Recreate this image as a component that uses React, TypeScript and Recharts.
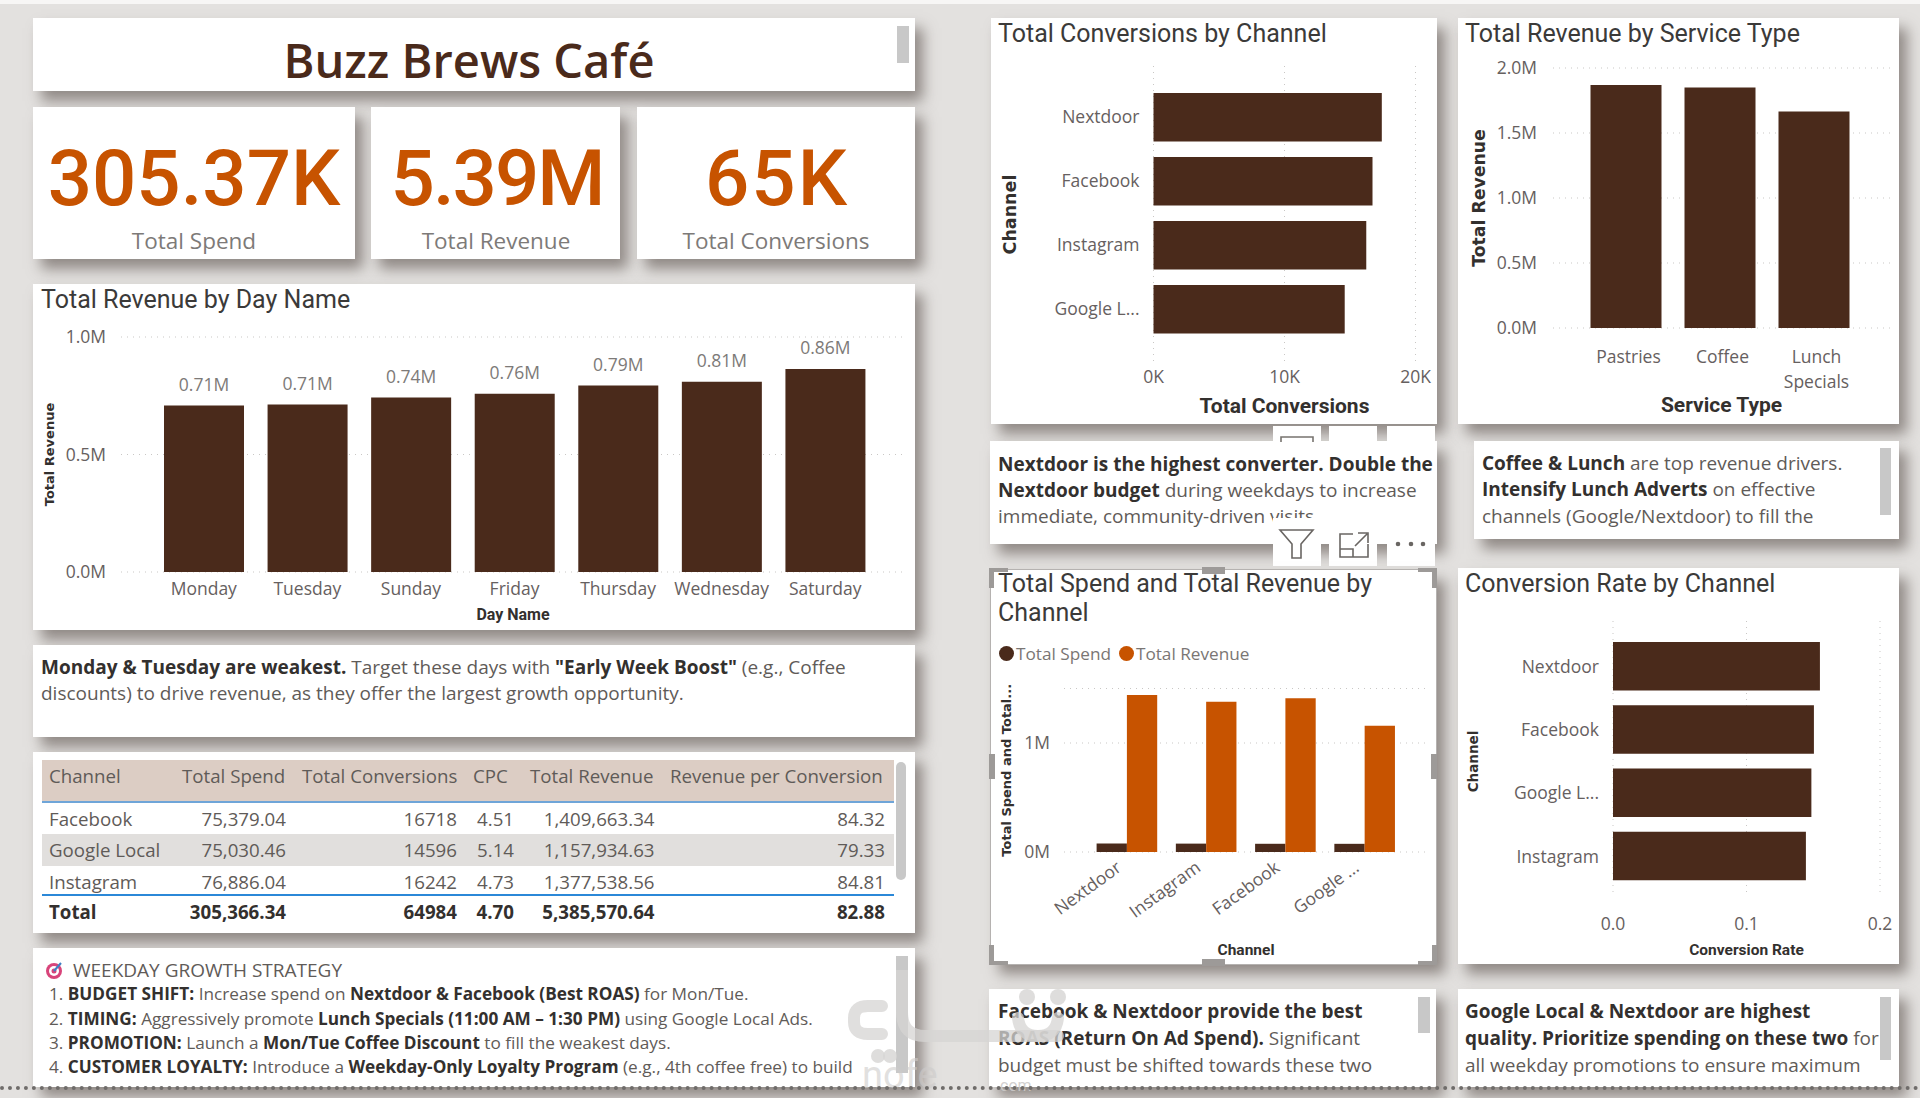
import React from "react";
import { BarChart, Bar, XAxis, YAxis, CartesianGrid, LabelList, Legend } from "recharts";

const BROWN = "#4a2a1b";
const ORANGE = "#c75300";
const TICK = "#666060";
const GRID = "#c9c7c5";
const UI = "'Open Sans', sans-serif";
const HEAD = "Roboto, sans-serif";
const WIDE = "'DejaVu Sans', sans-serif";

const dayNames = ["Monday", "Tuesday", "Sunday", "Friday", "Thursday", "Wednesday", "Saturday"];
const dayRevenue = [708000, 713000, 743000, 758000, 794000, 810000, 864000];

const conversionChannels = ["Nextdoor", "Facebook", "Instagram", "Google L..."];
const conversionValues = [17428, 16718, 16242, 14596];

const serviceTypes = ["Pastries", "Coffee", "Lunch Specials"];
const serviceRevenue = [1870000, 1850000, 1666000];

const spendChannels = ["Nextdoor", "Instagram", "Facebook", "Google ..."];
const spendValues = [78071, 76886, 75379, 75030];
const spendRevenue = [1440434, 1377539, 1409663, 1157935];

const rateChannels = ["Nextdoor", "Facebook", "Google L...", "Instagram"];
const rateValues = [0.155, 0.1505, 0.1486, 0.1445];

const tableHeaders = ["Channel", "Total Spend", "Total Conversions", "CPC", "Total Revenue", "Revenue per Conversion"];
const tableRows = [
  ["Facebook", "75,379.04", "16718", "4.51", "1,409,663.34", "84.32"],
  ["Google Local", "75,030.46", "14596", "5.14", "1,157,934.63", "79.33"],
  ["Instagram", "76,886.04", "16242", "4.73", "1,377,538.56", "84.81"],
];
const tableTotal = ["Total", "305,366.34", "64984", "4.70", "5,385,570.64", "82.88"];

const dayData = dayNames.map((name, i) => ({ name, revenue: dayRevenue[i] }));
const conversionData = conversionChannels.map((name, i) => ({ name, value: conversionValues[i] }));
const serviceData = serviceTypes.map((name, i) => ({ name, revenue: serviceRevenue[i] }));
const spendData = spendChannels.map((name, i) => ({ name, spend: spendValues[i], revenue: spendRevenue[i] }));
const rateData = rateChannels.map((name, i) => ({ name, rate: rateValues[i] }));

const Card = ({ x, y, w, h, children }: any) => (
  <div style={{ position: "absolute", left: x, top: y, width: w, height: h, background: "#fff", boxShadow: "8px 10px 13px rgba(90,80,75,0.6)" }}>
    {children}
  </div>
);

const T = ({ x, y, size = 19, color = "#5f5b58", weight = 400, font = UI, anchor = "left", spacing = 0, children }: any) => {
  const tx = anchor === "right" ? "-100%" : anchor === "center" ? "-50%" : "0";
  return (
    <div style={{ position: "absolute", left: x, top: y, transform: `translate(${tx},-50%)`, fontFamily: font, fontSize: size, color, fontWeight: weight, letterSpacing: spacing, whiteSpace: "nowrap", lineHeight: 1.2 }}>
      {children}
    </div>
  );
};

const B = ({ children }: any) => <b style={{ color: "#33302e", fontWeight: 700 }}>{children}</b>;

const Bar_ = ({ x, y, w, h, r = 0, c = "#c8c8c8" }: any) => (
  <div style={{ position: "absolute", left: x, top: y, width: w, height: h, background: c, borderRadius: r }} />
);

const axisTitle = (value: string, size: number, font = HEAD, weight = 700) => ({ value, fontSize: size, fontFamily: font, fontWeight: weight, fill: "#33302e" });

const ServiceTick = ({ x, y, payload }: any) => (
  <text x={x + 3} y={y} textAnchor="middle" fontSize={17.5} fontFamily={UI} fill={TICK}>
    {String(payload.value).split(" ").map((word, i) => (
      <tspan key={word} x={x + 3} dy={i === 0 ? 33 : 25}>{word}</tspan>
    ))}
  </text>
);

const SpendLegend = ({ payload }: any) => (
  <div style={{ display: "flex", fontFamily: UI, fontSize: 17.2, color: "#7a7674" }}>
    {(payload || []).map((item: any) => (
      <div key={item.value} style={{ display: "flex", alignItems: "center", marginRight: 8 }}>
        <span style={{ width: 15, height: 15, borderRadius: 8, background: item.color, marginRight: 2 }} />
        {item.value}
      </div>
    ))}
  </div>
);

const Handles = () => {
  const c = "#9d9a98";
  return (
    <>
      <div style={{ position: "absolute", left: 990, top: 569, width: 445, height: 394, border: `1px solid #b5b2b0` }} />
      <Bar_ x={989} y={568} w={19} h={4} c={c} /><Bar_ x={989} y={568} w={5} h={20} c={c} />
      <Bar_ x={1418} y={568} w={19} h={4} c={c} /><Bar_ x={1432} y={568} w={5} h={20} c={c} />
      <Bar_ x={989} y={961} w={19} h={4} c={c} /><Bar_ x={989} y={945} w={5} h={20} c={c} />
      <Bar_ x={1418} y={961} w={19} h={4} c={c} /><Bar_ x={1432} y={945} w={5} h={20} c={c} />
      <Bar_ x={1202} y={567} w={23} h={7} c={c} /><Bar_ x={1202} y={959} w={23} h={7} c={c} />
      <Bar_ x={989} y={754} w={6} h={25} c={c} /><Bar_ x={1431} y={754} w={6} h={25} c={c} />
    </>
  );
};

const Toolbar = () => (
  <>
    {[1273, 1329, 1387].map((x) => (
      <React.Fragment key={x}>
        <Bar_ x={x} y={426} w={48} h={16} c="#fff" />
        <Bar_ x={x} y={518} w={48} h={48} c="#fff" />
      </React.Fragment>
    ))}
    <svg style={{ position: "absolute", left: 1273, top: 430, width: 60, height: 12 }} fill="none" stroke="#77736f" strokeWidth={1.6}>
      <path d="M8 12 V7 H40 V12" />
    </svg>
    <svg style={{ position: "absolute", left: 1273, top: 516, width: 165, height: 50 }} fill="none" stroke="#6a6663" strokeWidth={1.6}>
      <path d="M7 14 H40 L28 28 V42 H19 V28 Z" />
      <path d="M80 18 H67 V41 H95 V28 M67 33 H80 V41 M82 30 L94 18 M85 17 H95 V27" />
      <circle cx={125} cy={28} r={1.5} fill="#6a6663" /><circle cx={138} cy={28} r={1.5} fill="#6a6663" /><circle cx={150} cy={28} r={1.5} fill="#6a6663" />
    </svg>
  </>
);

const Watermark = () => (
  <>
    <svg style={{ position: "absolute", left: 840, top: 970, width: 240, height: 118 }} fill="none" stroke="rgba(214,212,211,0.75)" strokeWidth={12} strokeLinecap="round">
      <path d="M42 36 H28 Q14 36 14 48 V52 Q14 64 28 64 H42" />
      <path d="M62 0 V42 Q62 66 85 66 H218" />
      <path d="M178 48 Q180 66 198 66 Q216 66 218 48" />
      <g stroke="none" fill="rgba(214,212,211,0.8)">
        <circle cx={38} cy={86} r={7} /><circle cx={50} cy={86} r={7} />
        <circle cx={187} cy={27} r={8} /><circle cx={218} cy={27} r={8} />
      </g>
    </svg>
    <T x={862} y={1076} size={38} color="rgba(205,203,202,0.6)" font={HEAD}>nofe</T>
    <T x={1000} y={1086} size={16} color="rgba(205,203,202,0.9)" font={HEAD}>com</T>
  </>
);

const tableRight = [0, 286, 457, 514, 654.5, 885];
const headerLeft = [49, 182, 302, 473, 530, 670];

export default function App() {
  return (
    <div style={{ position: "absolute", left: 0, top: 0, width: 1920, height: 1098, overflow: "hidden", background: "#e3e1df" }}>
      <Bar_ x={0} y={0} w={1920} h={4} c="#f7f6f5" />

      {/* title and KPI cards */}
      <Card x={33} y={18} w={882} h={73} />
      <T x={469} y={60} size={47} color={BROWN} font={UI} weight={600} anchor="center">Buzz Brews Café</T>
      <Bar_ x={897} y={26} w={12} h={37} />

      <Card x={33} y={107} w={321.5} h={152} />
      <Card x={371} y={107} w={249} h={152} />
      <Card x={637} y={107} w={278} h={152} />
      <T x={194} y={179} size={78} weight={500} color={ORANGE} font={HEAD} anchor="center">305.37K</T>
      <T x={497} y={179} size={78} weight={500} spacing={-2} color={ORANGE} font={HEAD} anchor="center">5.39M</T>
      <T x={777} y={179} size={78} weight={500} spacing={2} color={ORANGE} font={HEAD} anchor="center">65K</T>
      <T x={194} y={240} size={22.5} color="#7d7a78" anchor="center">Total Spend</T>
      <T x={496} y={240} size={22.5} color="#7d7a78" anchor="center">Total Revenue</T>
      <T x={776} y={240} size={22.5} color="#7d7a78" anchor="center">Total Conversions</T>

      {/* revenue by day */}
      <Card x={33} y={284} w={882} h={346}>
        <BarChart width={882} height={346} data={dayData} margin={{ top: 53, right: 10, bottom: 0, left: 0 }}>
          <CartesianGrid vertical={false} stroke={GRID} strokeDasharray="1 5" />
          <XAxis dataKey="name" height={58} axisLine={false} tickLine={false} tickSize={0} tickMargin={10.5} padding={{ left: 31, right: 28 }} interval={0}
            tick={{ fontSize: 17.5, fontFamily: UI, fill: TICK }}
            label={{ ...axisTitle("Day Name", 16), position: "center", dy: 13 }} />
          <YAxis width={88} domain={[0, 1000000]} ticks={[0, 500000, 1000000]} axisLine={false} tickLine={false} tickSize={0} tickMargin={15}
            tickFormatter={(v: number) => `${(v / 1000000).toFixed(1)}M`}
            tick={{ fontSize: 17.5, fontFamily: UI, fill: TICK }}
            label={{ ...axisTitle("Total Revenue", 13, WIDE), angle: -90, position: "center", dx: -28 }} />
          <Bar dataKey="revenue" fill={BROWN} barSize={80} isAnimationActive={false}>
            <LabelList dataKey="revenue" position="top" offset={14.5} fontSize={17.5} fontFamily={UI} fill="#7d7a78"
              formatter={(v: any) => `${(v / 1000000).toFixed(2)}M`} />
          </Bar>
        </BarChart>
        <T x={8} y={16} size={25} color="#3b3a39" font={HEAD}>Total Revenue by Day Name</T>
      </Card>

      {/* insight under the day chart */}
      <Card x={33} y={645} w={882} h={92} />
      <T x={41} y={667}><B>Monday &amp; Tuesday are weakest.</B> Target these days with <B>"Early Week Boost"</B> (e.g., Coffee</T>
      <T x={41} y={693}>discounts) to drive revenue, as they offer the largest growth opportunity.</T>

      {/* channel table */}
      <Card x={33} y={752} w={882} h={181} />
      <Bar_ x={42} y={760} w={852} h={41} c="#dccdc4" />
      <Bar_ x={42} y={801} w={852} h={2} c="#6fa5d8" />
      <Bar_ x={42} y={834} w={852} h={32} c="#e1dfdd" />
      <Bar_ x={42} y={894} w={852} h={2} c="#2b88d8" />
      <Bar_ x={896} y={762} w={10} h={118} r={5} />
      {tableHeaders.map((h, i) => (
        <T key={h} x={headerLeft[i]} y={776} size={18.7}>{h}</T>
      ))}
      {tableRows.map((row, r) =>
        row.map((cell, c) => (
          <T key={cell} x={c === 0 ? 49 : tableRight[c]} y={818.5 + r * 31.5} size={18.7} anchor={c === 0 ? "left" : "right"}>{cell}</T>
        ))
      )}
      {tableTotal.map((cell, c) => (
        <T key={cell} x={c === 0 ? 49 : tableRight[c]} y={912} size={18.7} weight={700} color="#33302e" anchor={c === 0 ? "left" : "right"}>{cell}</T>
      ))}

      {/* strategy text */}
      <Card x={33} y={948} w={882} h={139} />
      <svg style={{ position: "absolute", left: 44, top: 960, width: 20, height: 20 }} viewBox="0 0 20 20">
        <circle cx={10} cy={11} r={8} fill="#d8447a" /><circle cx={10} cy={11} r={5} fill="#fff" /><circle cx={10} cy={11} r={2.5} fill="#d8447a" />
        <path d="M10 11 L17 3" stroke="#3f7fc4" strokeWidth={2} />
      </svg>
      <T x={73} y={970} size={19}>WEEKDAY GROWTH STRATEGY</T>
      <T x={49} y={994} size={17.2}>1. <B>BUDGET SHIFT:</B> Increase spend on <B>Nextdoor &amp; Facebook (Best ROAS)</B> for Mon/Tue.</T>
      <T x={49} y={1019} size={17.2}>2. <B>TIMING:</B> Aggressively promote <B>Lunch Specials (11:00 AM – 1:30 PM)</B> using Google Local Ads.</T>
      <T x={49} y={1043} size={17.2}>3. <B>PROMOTION:</B> Launch a <B>Mon/Tue Coffee Discount</B> to fill the weakest days.</T>
      <T x={49} y={1067} size={17.2}>4. <B>CUSTOMER LOYALTY:</B> Introduce a <B>Weekday-Only Loyalty Program</B> (e.g., 4th coffee free) to build</T>
      <Bar_ x={896} y={956} w={12} h={117} />

      {/* conversions by channel */}
      <Card x={991} y={18} w={446} h={406}>
        <BarChart width={446} height={406} data={conversionData} layout="vertical" margin={{ top: 48, right: 21.5, bottom: 0, left: 0 }}>
          <CartesianGrid horizontal={false} stroke={GRID} strokeDasharray="1 5" />
          <XAxis type="number" height={61} domain={[0, 20000]} ticks={[0, 10000, 20000]} axisLine={false} tickLine={false} tickSize={0} tickMargin={7.5}
            tickFormatter={(v: number) => `${v / 1000}K`}
            tick={{ fontSize: 17.5, fontFamily: UI, fill: TICK }}
            label={{ ...axisTitle("Total Conversions", 21), position: "center", dy: 12 }} />
          <YAxis type="category" dataKey="name" width={162.5} axisLine={false} tickLine={false} tickSize={0} tickMargin={14} padding={{ top: 19, bottom: 22 }} interval={0}
            tick={{ fontSize: 17.5, fontFamily: UI, fill: TICK }}
            label={{ ...axisTitle("Channel", 17.5, WIDE), angle: -90, position: "center", dx: -62 }} />
          <Bar dataKey="value" fill={BROWN} barSize={48.6} isAnimationActive={false} />
        </BarChart>
        <T x={7} y={16} size={25} color="#3b3a39" font={HEAD}>Total Conversions by Channel</T>
      </Card>

      {/* revenue by service type */}
      <Card x={1458} y={18} w={441} h={406}>
        <BarChart width={441} height={406} data={serviceData} margin={{ top: 50, right: 5, bottom: 0, left: 0 }}>
          <CartesianGrid vertical={false} stroke={GRID} strokeDasharray="1 5" />
          <XAxis dataKey="name" height={96} axisLine={false} tickLine={false} tickSize={0} padding={{ left: 25.5, right: 33.5 }} interval={0}
            tick={ServiceTick}
            label={{ ...axisTitle("Service Type", 21), position: "center", dy: 29, dx: -2 }} />
          <YAxis width={95} domain={[0, 2000000]} ticks={[0, 500000, 1000000, 1500000, 2000000]} axisLine={false} tickLine={false} tickSize={0} tickMargin={16}
            tickFormatter={(v: number) => `${(v / 1000000).toFixed(1)}M`}
            tick={{ fontSize: 17.5, fontFamily: UI, fill: TICK }}
            label={{ ...axisTitle("Total Revenue", 17.3, WIDE), angle: -90, position: "center", dx: -27 }} />
          <Bar dataKey="revenue" fill={BROWN} barSize={71} isAnimationActive={false} />
        </BarChart>
        <T x={7} y={16} size={25} color="#3b3a39" font={HEAD}>Total Revenue by Service Type</T>
      </Card>

      {/* insight boxes, middle row */}
      <Card x={990} y={441} w={447} h={103} />
      <T x={998} y={464}><B>Nextdoor is the highest converter. Double the</B></T>
      <T x={998} y={490}><B>Nextdoor budget</B> during weekdays to increase</T>
      <T x={998} y={516}>immediate, community-driven visits</T>

      <Card x={1474} y={441} w={425} h={98} />
      <T x={1482} y={463}><B>Coffee &amp; Lunch</B> are top revenue drivers.</T>
      <T x={1482} y={489}><B>Intensify Lunch Adverts</B> on effective</T>
      <T x={1482} y={516}>channels (Google/Nextdoor) to fill the</T>
      <Bar_ x={1880} y={448} w={11} h={67} />

      <Toolbar />

      {/* spend and revenue */}
      <Card x={991} y={570} w={446} h={394}>
        <BarChart width={446} height={394} data={spendData} barGap={0} margin={{ top: 118.5, right: 9, bottom: 0, left: 0 }}>
          <CartesianGrid vertical={false} stroke={GRID} strokeDasharray="1 5" />
          <XAxis dataKey="name" height={112} axisLine={false} tickLine={false} tickSize={0} tickMargin={8} padding={{ left: 23.6, right: 23.4 }} interval={0}
            angle={-36} textAnchor="end"
            tick={{ fontSize: 17.5, fontFamily: UI, fill: TICK, dx: -12 }}
            label={{ ...axisTitle("Channel", 15.5), position: "center", dy: 41 }} />
          <YAxis width={73} domain={[0, 1500000]} ticks={[0, 1000000]} axisLine={false} tickLine={false} tickSize={0} tickMargin={14}
            tickFormatter={(v: number) => `${v / 1000000}M`}
            tick={{ fontSize: 17.5, fontFamily: UI, fill: TICK }}
            label={{ ...axisTitle("Total Spend and Total...", 13, WIDE), angle: -90, position: "center", dx: -21 }} />
          <Legend layout="vertical" align="center" verticalAlign="middle" itemSorter={null as any} content={SpendLegend as any}
            wrapperStyle={{ left: 8, top: 72, width: 300, height: 24 }} />
          <Bar dataKey="spend" name="Total Spend" fill={BROWN} barSize={30.3} isAnimationActive={false} />
          <Bar dataKey="revenue" name="Total Revenue" fill={ORANGE} barSize={30.3} isAnimationActive={false} />
        </BarChart>
        <T x={7} y={14} size={25} color="#3b3a39" font={HEAD}>Total Spend and Total Revenue by</T>
        <T x={7} y={43} size={25} color="#3b3a39" font={HEAD}>Channel</T>
      </Card>
      <Handles />

      {/* conversion rate */}
      <Card x={1458} y={568} w={441} h={396}>
        <BarChart width={441} height={396} data={rateData} layout="vertical" margin={{ top: 53, right: 19, bottom: 0, left: 0 }}>
          <CartesianGrid horizontal={false} stroke={GRID} strokeDasharray="1 5" />
          <XAxis type="number" height={70} domain={[0, 0.2]} ticks={[0, 0.1, 0.2]} axisLine={false} tickLine={false} tickSize={0} tickMargin={24}
            tickFormatter={(v: number) => v.toFixed(1)}
            tick={{ fontSize: 17.5, fontFamily: UI, fill: TICK }}
            label={{ ...axisTitle("Conversion Rate", 15.5), position: "center", dy: 20 }} />
          <YAxis type="category" dataKey="name" width={155} axisLine={false} tickLine={false} tickSize={0} tickMargin={14} padding={{ top: 14, bottom: 6 }} interval={0}
            tick={{ fontSize: 17.5, fontFamily: UI, fill: TICK }}
            label={{ ...axisTitle("Channel", 13.5, WIDE), angle: -90, position: "center", dx: -62, dy: 4 }} />
          <Bar dataKey="rate" fill={BROWN} barSize={48.6} isAnimationActive={false} />
        </BarChart>
        <T x={7} y={16} size={25} color="#3b3a39" font={HEAD}>Conversion Rate by Channel</T>
      </Card>

      {/* insight boxes, bottom row */}
      <Card x={989} y={989} w={447} h={98} />
      <T x={998} y={1011}><B>Facebook &amp; Nextdoor provide the best</B></T>
      <T x={998} y={1038}><B>ROAS (Return On Ad Spend).</B> Significant</T>
      <T x={998} y={1065}>budget must be shifted towards these two</T>
      <Bar_ x={1418} y={997} w={12} h={36} />

      <Card x={1458} y={989} w={441} h={98} />
      <T x={1465} y={1011}><B>Google Local &amp; Nextdoor are highest</B></T>
      <T x={1465} y={1038}><B>quality. Prioritize spending on these two</B> for</T>
      <T x={1465} y={1065}>all weekday promotions to ensure maximum</T>
      <Bar_ x={1880} y={997} w={11} h={63} />

      <Watermark />
      <div style={{ position: "absolute", left: 0, top: 1086, width: 1920, height: 0, borderTop: "4px dotted #6f6c6a" }} />
    </div>
  );
}
